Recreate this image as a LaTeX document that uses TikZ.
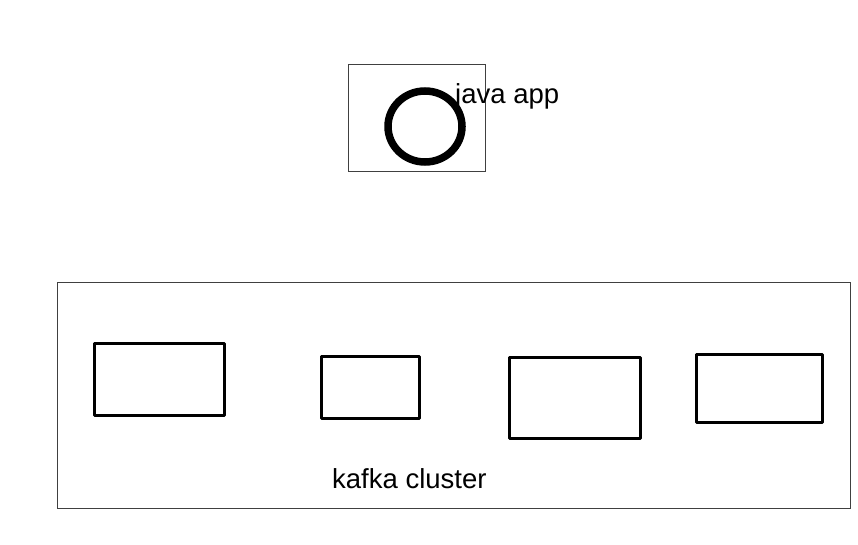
\documentclass[tikz,border=0pt]{standalone}
\usepackage{fontspec}
\setmainfont{Liberation Sans}
\usetikzlibrary{shapes.geometric}
\begin{document}
\begin{tikzpicture}[x=1pt,y=-1pt,
  thinbox/.style={draw=black!75, line width=1pt},
  broker/.style={draw=black, line width=3pt, line join=round},
  lbl/.style={anchor=base west, inner sep=0pt, font=\fontsize{27.5}{33}\selectfont}]
\useasboundingbox (0,0) rectangle (858,545);
\draw[thinbox] (348,65) rectangle (485,172);
\node[draw=black, line width=7.5pt, ellipse, minimum width=74pt, minimum height=71pt, inner sep=0pt] (app) at (425,126.5) {};
\node[lbl] (applbl) at (455,104) {java app};
\draw[thinbox] (57,282) rectangle (850,508);
\draw[broker] (94,343) rectangle (224,415);
\draw[broker] (321,356) rectangle (419,418);
\draw[broker] (509,357) rectangle (640,438);
\draw[broker] (696,354) rectangle (822,422);
\node[lbl] (cluster) at (332,488) {kafka cluster};
\end{tikzpicture}
\end{document}
